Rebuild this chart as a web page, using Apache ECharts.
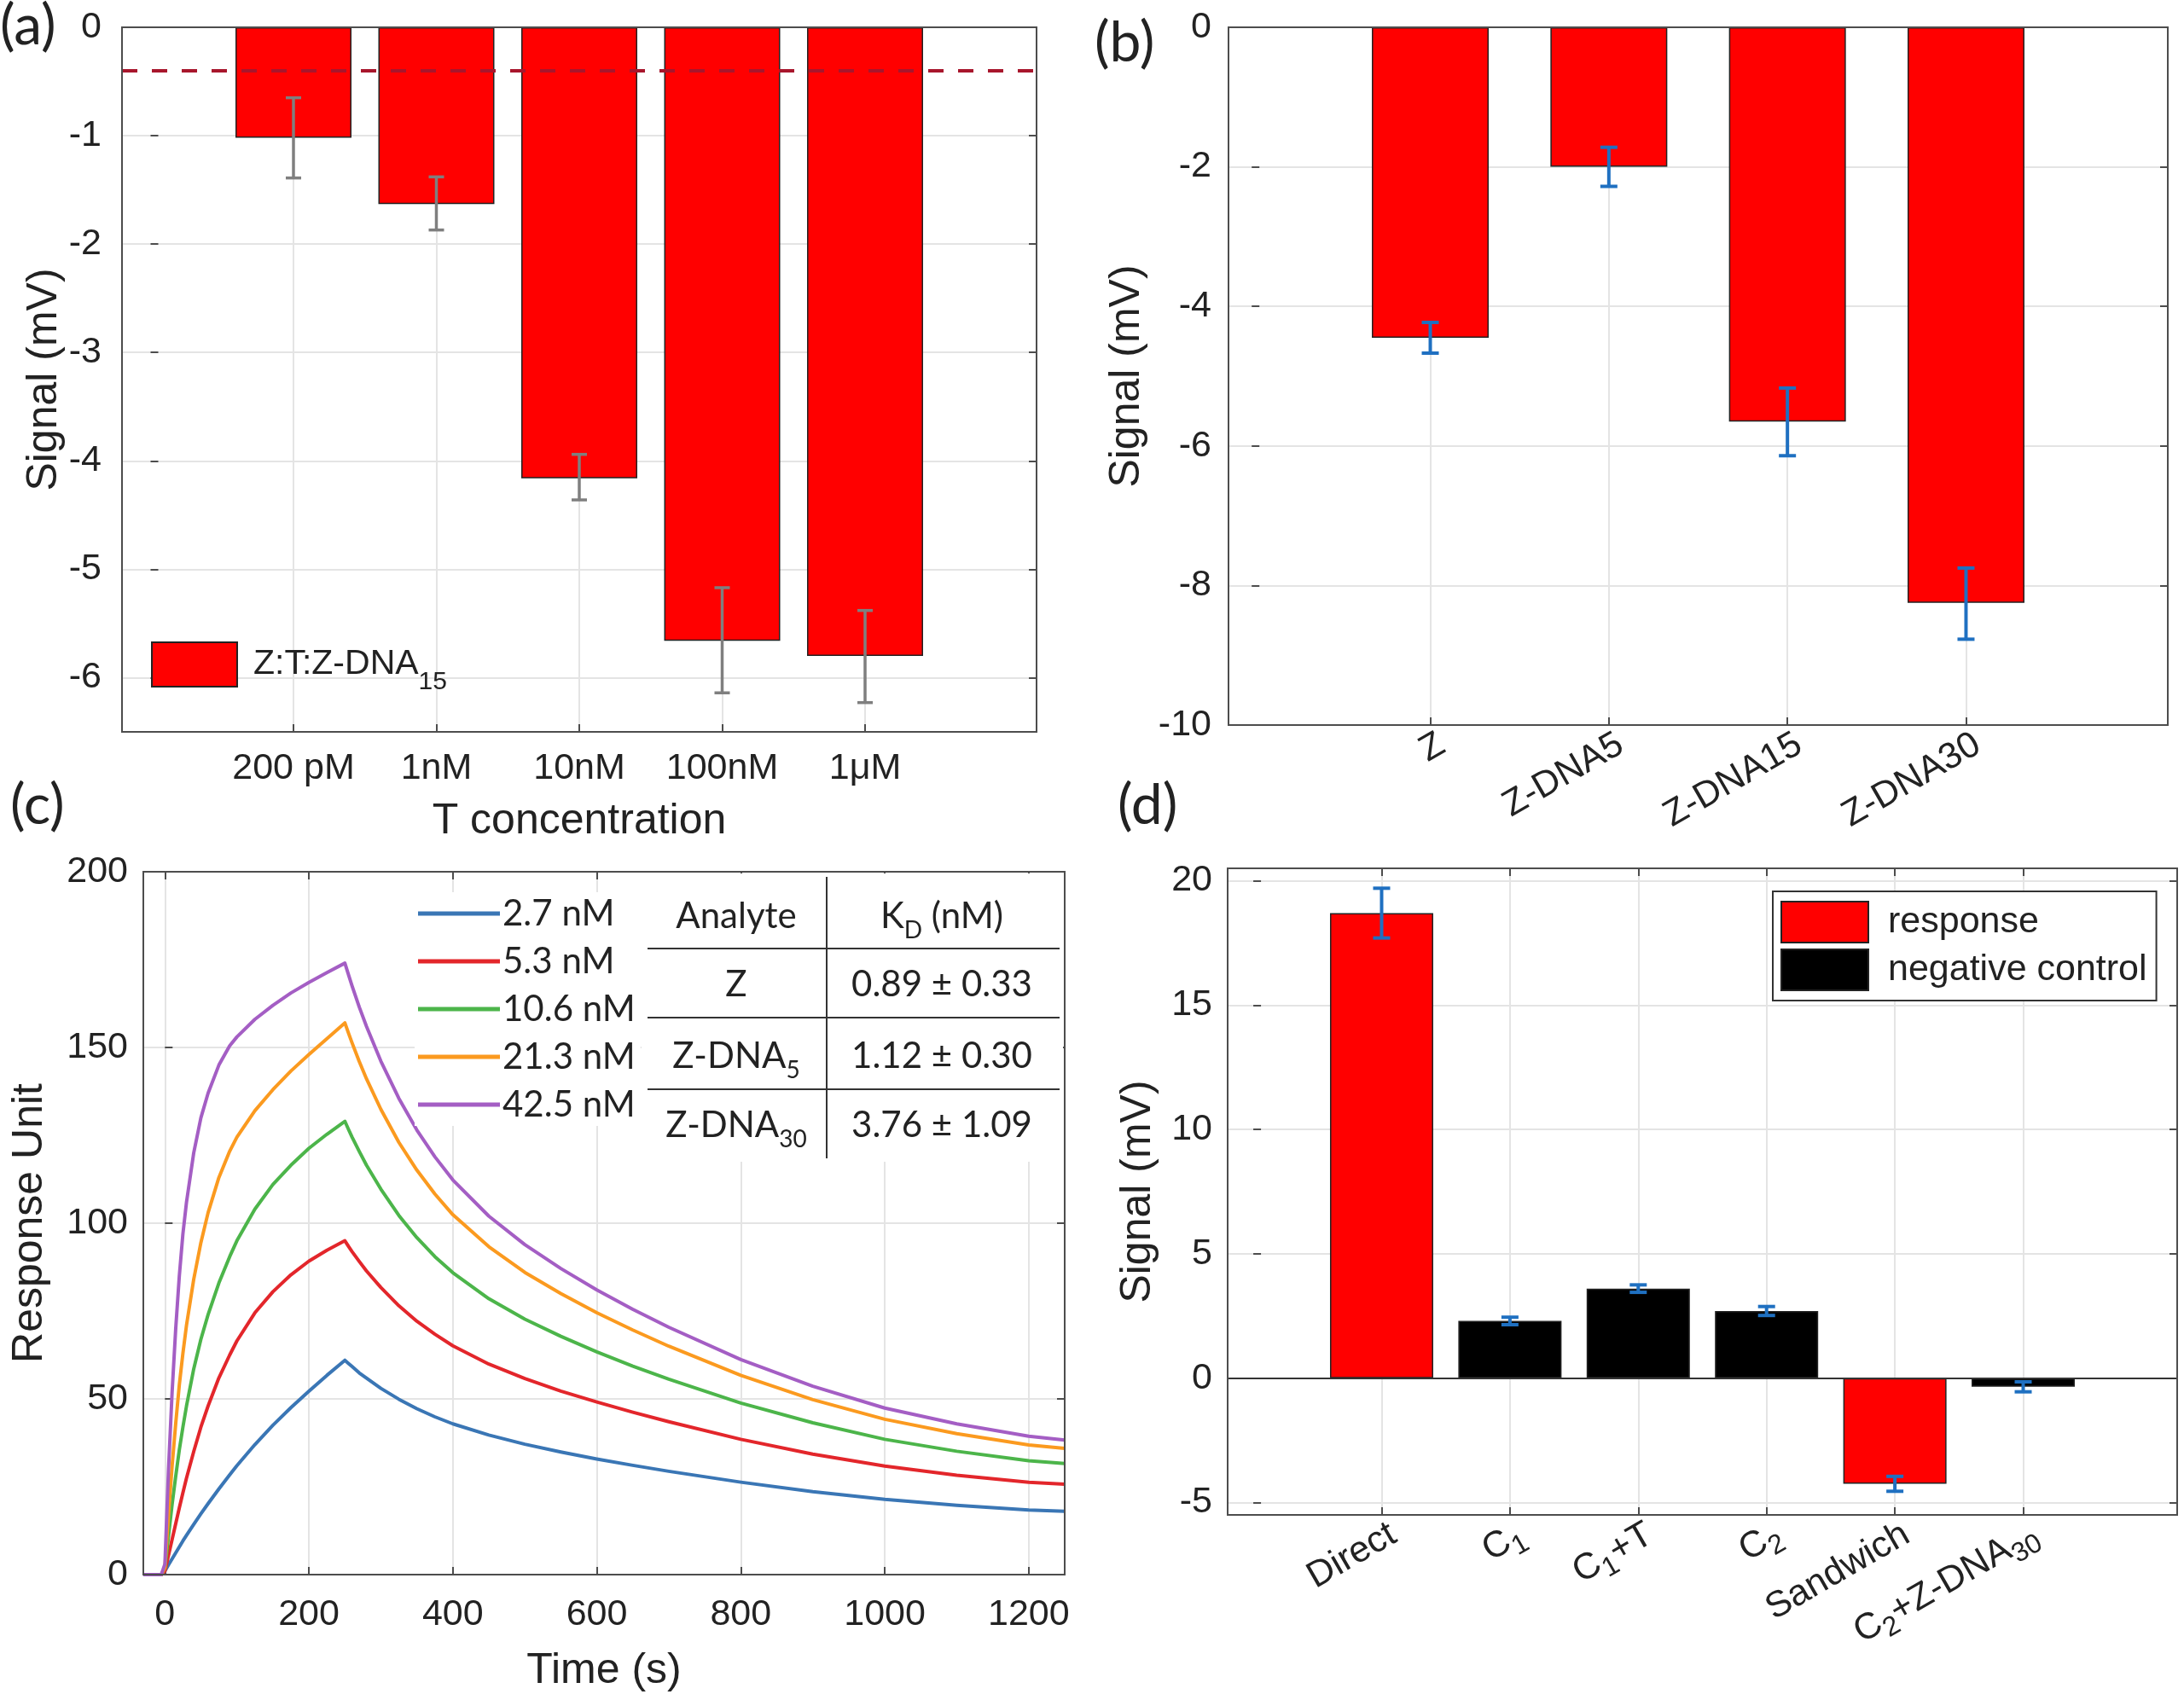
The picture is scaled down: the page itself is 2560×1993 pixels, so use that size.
<!DOCTYPE html>
<html><head><meta charset="utf-8">
<script src="https://cdn.jsdelivr.net/npm/echarts@6/dist/echarts.min.js"></script>
<style>html,body{margin:0;padding:0;background:#fff}#c{width:2560px;height:1993px}</style>
</head><body><div id="c"></div>
<script>
// ---------- Panel (a) ----------
const concCategories = ['200 pM', '1nM', '10nM', '100nM', '1μM'];
const concSignal   = [-1.02, -1.63, -4.16, -5.66, -5.80];
const concErrLow   = [-1.39, -1.87, -4.36, -6.14, -6.23];
const concErrHigh  = [-0.65, -1.38, -3.94, -5.17, -5.38];
const concThreshold = -0.4;
const concSeriesName = 'Z:T:Z-DNA15';
const concYTicks = [-6, -5, -4, -3, -2, -1, 0];

// ---------- Panel (b) ----------
const probeCategories = ['Z', 'Z-DNA5', 'Z-DNA15', 'Z-DNA30'];
const probeSignal  = [-4.45, -2.00, -5.65, -8.25];
const probeErrLow  = [-4.67, -2.28, -6.14, -8.77];
const probeErrHigh = [-4.23, -1.72, -5.17, -7.75];
const probeYTicks = [-10, -8, -6, -4, -2, 0];

// ---------- Panel (c) ----------
const spNames = ['2.7 nM', '5.3 nM', '10.6 nM', '21.3 nM', '42.5 nM'];
const spTime = [-30, -5, 0, 5, 10, 15, 20, 25, 30, 40, 50, 60, 75, 90, 100, 125, 150, 175, 200, 225, 250,
                255, 260, 270, 280, 300, 325, 350, 375, 400, 450, 500, 550, 600, 650, 700, 800, 900, 1000, 1100, 1200, 1250];
const sp27  = [0, 0, 1, 2.8, 4.5, 6.2, 7.9, 9.6, 11.2, 14.3, 17.3, 20.2, 24.4, 28.4, 31, 37, 42.5, 47.5, 52.2, 56.7, 61,
               60.1, 59.2, 57.4, 55.9, 53, 49.9, 47.2, 44.9, 42.9, 39.7, 37.1, 34.9, 32.9, 31.1, 29.4, 26.3, 23.6, 21.4, 19.7, 18.4, 18];
const sp53  = [0, 0, 1, 5.5, 10, 14.5, 19, 23.3, 27.5, 35, 42, 48, 56, 62.5, 66.5, 74.5, 80.5, 85.3, 89.2, 92.3, 95,
               93.4, 91.9, 89.1, 86.4, 81.7, 76.5, 72.1, 68.4, 65.1, 59.9, 55.8, 52.2, 49.1, 46.2, 43.5, 38.5, 34.3, 30.9, 28.3, 26.3, 25.7];
const sp106 = [0, 0, 2, 11, 20, 28, 35.5, 42, 48, 58.5, 67, 74, 83, 90.5, 95, 104, 111, 116.5, 121.3, 125.3, 129,
               126.7, 124.5, 120.4, 116.5, 109.7, 102.2, 95.9, 90.5, 85.9, 78.5, 72.7, 67.8, 63.4, 59.3, 55.6, 48.8, 43.2, 38.5, 35.1, 32.4, 31.6];
const sp213 = [0, 0, 2, 17, 31, 43, 54, 63, 71, 84, 94.5, 103, 113, 120.5, 124.5, 132, 138, 143.3, 148, 152.5, 157,
               154.1, 151.3, 146, 141.1, 132.4, 123, 115.1, 108.3, 102.4, 93.3, 86, 80, 74.5, 69.6, 65, 56.7, 49.8, 44.2, 40.1, 36.9, 35.9];
const sp425 = [0, 0, 3, 30, 52, 70, 85, 97, 106, 120, 130, 137, 145, 150.5, 153, 158, 162, 165.5, 168.5, 171.3, 174,
               170.7, 167.5, 161.5, 156, 146.1, 135.5, 126.5, 118.9, 112.3, 102, 93.9, 87.1, 81, 75.5, 70.4, 61.2, 53.6, 47.4, 42.9, 39.4, 38.3];
const spColors = ['#3a76b5', '#e3262b', '#4cb54a', '#fb9a1f', '#a45ec4'];
const spXTicks = [0, 200, 400, 600, 800, 1000, 1200];
const spYTicks = [0, 50, 100, 150, 200];
const kdHeader = ['Analyte', 'K_D (nM)'];
const kdAnalytes = ['Z', 'Z-DNA_5', 'Z-DNA_30'];
const kdValues = ['0.89 ± 0.33', '1.12 ± 0.30', '3.76 ± 1.09'];

// ---------- Panel (d) ----------
const assayCategories = ['Direct', 'C_1', 'C_1+T', 'C_2', 'Sandwich', 'C_2+Z-DNA_30'];
const assaySignal  = [18.7, 2.30, 3.60, 2.70, -4.25, -0.35];
const assayErrLow  = [17.7, 2.15, 3.45, 2.52, -4.55, -0.55];
const assayErrHigh = [19.7, 2.45, 3.75, 2.88, -3.95, -0.15];
const assayGroup   = ['response', 'negative control', 'negative control', 'negative control', 'response', 'negative control'];
const assayYTicks = [-5, 0, 5, 10, 15, 20];

// ---------- styling ----------
const AX = '"Liberation Sans", Arial, sans-serif';
const CAL = 'Lato, "Open Sans", sans-serif';
const TXT = '#222';
const GRIDC = '#e4e4e4';
const BORDER = '#4d4d4d';

function subRich(s) { // "C_2+Z-DNA_30" -> rich tokens
  return s.split(/(_[A-Za-z0-9]+)/).filter(x => x).map(x => x[0] === '_' ? '{s|' + x.slice(1) + '}' : '{n|' + x + '}').join('');
}

function errRender(color, lw, cap) {
  return function (params, api) {
    const x = api.value(0);
    const p1 = api.coord([x, api.value(1)]);
    const p2 = api.coord([x, api.value(2)]);
    const st = { stroke: color, lineWidth: lw };
    return { type: 'group', children: [
      { type: 'line', shape: { x1: p1[0], y1: p1[1], x2: p2[0], y2: p2[1] }, style: st },
      { type: 'line', shape: { x1: p1[0] - cap, y1: p1[1], x2: p1[0] + cap, y2: p1[1] }, style: st },
      { type: 'line', shape: { x1: p2[0] - cap, y1: p2[1], x2: p2[0] + cap, y2: p2[1] }, style: st }
    ]};
  };
}

const axisLabelBase = { fontFamily: AX, fontSize: 43, color: TXT };
const splitBase = { show: true, lineStyle: { color: GRIDC, width: 2 } };
const tickBase = { show: true, inside: true, length: 9, lineStyle: { color: BORDER, width: 2 } };
const nameStyle = { fontFamily: AX, fontSize: 50, color: TXT };

function gridDef(left, top, width, height) {
  return { left, top, width, height, show: true, borderColor: BORDER, borderWidth: 2,
           backgroundColor: 'transparent', containLabel: false, outerBoundsMode: 'none', z: 10 };
}

const catTicks = n => Array.from({ length: n }, (_, i) => i + 1);

// mirror axes (ticks only) on top / right, like a boxed plot
function mirrorX(gi, min, max, ticks) {
  return { gridIndex: gi, type: 'value', position: 'top', min, max,
    axisLine: { show: false, onZero: false }, axisLabel: { show: false, customValues: ticks },
    axisTick: Object.assign({}, tickBase, { customValues: ticks }), splitLine: { show: false } };
}
function mirrorY(gi, min, max, ticks) {
  return { gridIndex: gi, type: 'value', position: 'right', min, max,
    axisLine: { show: false, onZero: false }, axisLabel: { show: false, customValues: ticks },
    axisTick: Object.assign({}, tickBase, { customValues: ticks }), splitLine: { show: false } };
}

const option = {
  animation: false,
  backgroundColor: '#fff',
  grid: [
    gridDef(143, 32, 1072, 826),
    gridDef(1440, 32, 1101, 818),
    gridDef(168, 1022, 1080, 824),
    gridDef(1439, 1018, 1113, 758)
  ],
  xAxis: [
    { gridIndex: 0, type: 'value', min: -0.2, max: 6.2,
      axisLine: { show: false, onZero: false },
      axisTick: Object.assign({}, tickBase, { customValues: catTicks(concCategories.length) }),
      axisLabel: Object.assign({}, axisLabelBase, { margin: 22, customValues: catTicks(concCategories.length),
        formatter: v => concCategories[Math.round(v) - 1] || '' }),
      splitLine: splitBase,
      name: 'T concentration', nameLocation: 'middle', nameGap: 80, nameTextStyle: nameStyle },
    { gridIndex: 1, type: 'value', min: -0.13, max: 5.13,
      axisLine: { show: false, onZero: false },
      axisTick: Object.assign({}, tickBase, { customValues: catTicks(probeCategories.length) }),
      axisLabel: Object.assign({}, axisLabelBase, { margin: 28, rotate: 30, padding: [0, -16, 0, 0],
        customValues: catTicks(probeCategories.length),
        formatter: v => probeCategories[Math.round(v) - 1] || '' }),
      splitLine: splitBase },
    { gridIndex: 2, type: 'value', min: -30, max: 1250,
      axisLine: { show: false, onZero: false },
      axisTick: Object.assign({}, tickBase, { customValues: spXTicks }),
      axisLabel: Object.assign({}, axisLabelBase, { margin: 26, customValues: spXTicks, formatter: v => String(v) }),
      splitLine: splitBase,
      name: 'Time (s)', nameLocation: 'middle', nameGap: 88, nameTextStyle: nameStyle },
    { gridIndex: 3, type: 'value', min: -0.2, max: 7.2,
      axisLine: { show: false, onZero: false },
      axisTick: Object.assign({}, tickBase, { customValues: catTicks(assayCategories.length) }),
      axisLabel: Object.assign({}, axisLabelBase, { margin: 28, rotate: 30, padding: [0, -16, 0, 0],
        customValues: catTicks(assayCategories.length),
        formatter: v => { const s = assayCategories[Math.round(v) - 1]; return s ? subRich(s) : ''; },
        rich: { n: { fontFamily: AX, fontSize: 43, color: TXT }, s: { fontFamily: AX, fontSize: 32, color: TXT, verticalAlign: 'bottom', padding: [26, 0, 0, 0] } } }),
      splitLine: splitBase },
    mirrorX(0, -0.2, 6.2, catTicks(concCategories.length)),
    mirrorX(1, -0.13, 5.13, catTicks(probeCategories.length)),
    mirrorX(2, -30, 1250, spXTicks),
    mirrorX(3, -0.2, 7.2, catTicks(assayCategories.length))
  ],
  yAxis: [
    { gridIndex: 0, type: 'value', min: -6.5, max: 0,
      axisLine: { show: false },
      axisTick: Object.assign({}, tickBase, { customValues: concYTicks }),
      axisLabel: Object.assign({}, axisLabelBase, { margin: 24, customValues: concYTicks }),
      splitLine: splitBase,
      name: 'Signal (mV)', nameLocation: 'middle', nameGap: 66, nameTextStyle: nameStyle },
    { gridIndex: 1, type: 'value', min: -10, max: 0,
      axisLine: { show: false },
      axisTick: Object.assign({}, tickBase, { customValues: probeYTicks }),
      axisLabel: Object.assign({}, axisLabelBase, { margin: 20, customValues: probeYTicks }),
      splitLine: splitBase,
      name: 'Signal (mV)', nameLocation: 'middle', nameGap: 94, nameTextStyle: nameStyle },
    { gridIndex: 2, type: 'value', min: 0, max: 200,
      axisLine: { show: false },
      axisTick: Object.assign({}, tickBase, { customValues: spYTicks }),
      axisLabel: Object.assign({}, axisLabelBase, { margin: 18, customValues: spYTicks }),
      splitLine: splitBase,
      name: 'Response Unit', nameLocation: 'middle', nameGap: 108, nameTextStyle: nameStyle },
    { gridIndex: 3, type: 'value', min: -5.5, max: 20.5,
      axisLine: { show: false },
      axisTick: Object.assign({}, tickBase, { customValues: assayYTicks }),
      axisLabel: Object.assign({}, axisLabelBase, { margin: 18, customValues: assayYTicks }),
      splitLine: splitBase,
      name: 'Signal (mV)', nameLocation: 'middle', nameGap: 80, nameTextStyle: nameStyle },
    mirrorY(0, -6.5, 0, concYTicks),
    mirrorY(1, -10, 0, probeYTicks),
    mirrorY(2, 0, 200, spYTicks),
    mirrorY(3, -5.5, 20.5, assayYTicks)
  ],
  legend: [
    { data: [concSeriesName], left: 177, top: 752, padding: 0, icon: 'rect', itemWidth: 100, itemHeight: 52,
      formatter: n => n.replace(/^(.*?)(\d+)$/, '{n|$1}{s|$2}'),
      textStyle: { padding: [0, 0, 0, 14], rich: { n: { fontFamily: AX, fontSize: 41, color: TXT, lineHeight: 46 }, s: { fontFamily: AX, fontSize: 30, color: TXT, padding: [42, 0, 0, 0] } } } },
    { data: spNames, orient: 'vertical', left: 486, top: 1046, padding: [4, 6, 4, 4], itemGap: 14, itemWidth: 96, itemHeight: 5,
      icon: 'rect', backgroundColor: '#fff',
      textStyle: { fontFamily: CAL, fontSize: 42, color: TXT, padding: [0, 0, 0, -2] } },
    { data: ['response', 'negative control'], orient: 'vertical', left: 2078, top: 1045, icon: 'rect',
      itemWidth: 102, itemHeight: 48, itemGap: 6, padding: [11, 11, 11, 9],
      backgroundColor: '#fff', borderColor: '#333', borderWidth: 2,
      textStyle: { fontFamily: AX, fontSize: 43, color: TXT, padding: [0, 0, 0, 18] } }
  ],
  graphic: [
    { type: 'text', left: 0, top: -2, style: { text: '(a)', fontFamily: CAL, fontSize: 66, fill: TXT } },
    { type: 'text', left: 1283, top: 18, style: { text: '(b)', fontFamily: CAL, fontSize: 66, fill: TXT } },
    { type: 'text', left: 12, top: 912, style: { text: '(c)', fontFamily: CAL, fontSize: 66, fill: TXT } },
    { type: 'text', left: 1310, top: 912, style: { text: '(d)', fontFamily: CAL, fontSize: 66, fill: TXT } },
    // KD table
    { type: 'rect', z: 20, shape: { x: 752, y: 1024, width: 494, height: 338 }, style: { fill: '#fff' } },
    { type: 'line', z: 21, shape: { x1: 969, y1: 1028, x2: 969, y2: 1358 }, style: { stroke: '#333', lineWidth: 2 } },
    { type: 'line', z: 21, shape: { x1: 759, y1: 1112, x2: 1242, y2: 1112 }, style: { stroke: '#333', lineWidth: 2 } },
    { type: 'line', z: 21, shape: { x1: 759, y1: 1193, x2: 1242, y2: 1193 }, style: { stroke: '#333', lineWidth: 2 } },
    { type: 'line', z: 21, shape: { x1: 759, y1: 1277, x2: 1242, y2: 1277 }, style: { stroke: '#333', lineWidth: 2 } }
  ].concat(
    [kdHeader].concat(kdAnalytes.map((a, i) => [a, kdValues[i]])).flatMap((row, r) => {
      const yc = [1074, 1154, 1238, 1319][r];
      return row.map((cell, c) => ({
        type: 'text', z: 22, x: c === 0 ? 863 : 1104, y: yc,
        style: { text: subRich(cell), align: 'center', verticalAlign: 'middle',
          rich: { n: { fontFamily: CAL, fontSize: 42, fill: TXT, lineHeight: 46 },
                  s: { fontFamily: CAL, fontSize: 28, fill: TXT, padding: [34, 0, 0, 0] } } }
      }));
    })
  ),
  series: [
    { type: 'bar', name: concSeriesName, xAxisIndex: 0, yAxisIndex: 0, barWidth: 136,
      data: concSignal.map((v, i) => [i + 1, v]),
      itemStyle: { color: '#ff0000', borderColor: '#222', borderWidth: 1.5 },
      markLine: { silent: true, symbol: ['none', 'none'], label: { show: false },
        lineStyle: { color: '#a8162c', type: [18, 17], width: 4 }, data: [{ yAxis: concThreshold }] } },
    { type: 'custom', xAxisIndex: 0, yAxisIndex: 0, z: 5, encode: { x: 0, y: [1, 2] },
      data: concSignal.map((v, i) => [i + 1, concErrLow[i], concErrHigh[i]]),
      renderItem: errRender('#7f7f7f', 3.5, 9) },

    { type: 'bar', name: 'probe', xAxisIndex: 1, yAxisIndex: 1, barWidth: 137,
      data: probeSignal.map((v, i) => [i + 1, v]),
      itemStyle: { color: '#ff0000', borderColor: '#222', borderWidth: 1.5 } },
    { type: 'custom', xAxisIndex: 1, yAxisIndex: 1, z: 5, encode: { x: 0, y: [1, 2] },
      data: probeSignal.map((v, i) => [i + 1, probeErrLow[i], probeErrHigh[i]]),
      renderItem: errRender('#1f70c1', 4, 10) }
  ].concat([sp27, sp53, sp106, sp213, sp425].map((arr, k) => ({
      type: 'line', name: spNames[k], xAxisIndex: 2, yAxisIndex: 2, symbol: 'none', smooth: false,
      color: spColors[k], itemStyle: { color: spColors[k] }, lineStyle: { width: 4, color: spColors[k], join: 'round' },
      data: spTime.map((t, i) => [t, arr[i]])
  }))).concat([
    { type: 'bar', name: 'response', xAxisIndex: 3, yAxisIndex: 3, barWidth: 121, barGap: '-100%',
      data: assaySignal.map((v, i) => assayGroup[i] === 'response' ? [i + 1, v] : null).filter(d => d),
      itemStyle: { color: '#ff0000', borderColor: '#222', borderWidth: 1.5 },
      markLine: { silent: true, symbol: ['none', 'none'], label: { show: false },
        lineStyle: { color: '#333', type: 'solid', width: 2 }, data: [{ yAxis: 0 }] } },
    { type: 'bar', name: 'negative control', xAxisIndex: 3, yAxisIndex: 3, barWidth: 121, barGap: '-100%',
      data: assaySignal.map((v, i) => assayGroup[i] === 'negative control' ? [i + 1, v] : null).filter(d => d),
      itemStyle: { color: '#000000', borderColor: '#222', borderWidth: 1.5 } },
    { type: 'custom', xAxisIndex: 3, yAxisIndex: 3, z: 5, encode: { x: 0, y: [1, 2] },
      data: assaySignal.map((v, i) => [i + 1, assayErrLow[i], assayErrHigh[i]]),
      renderItem: errRender('#1f70c1', 4, 10) }
  ])
};

const chart = echarts.init(document.getElementById('c'), null, { width: 2560, height: 1993 });
chart.setOption(option);
</script>
</body></html>
